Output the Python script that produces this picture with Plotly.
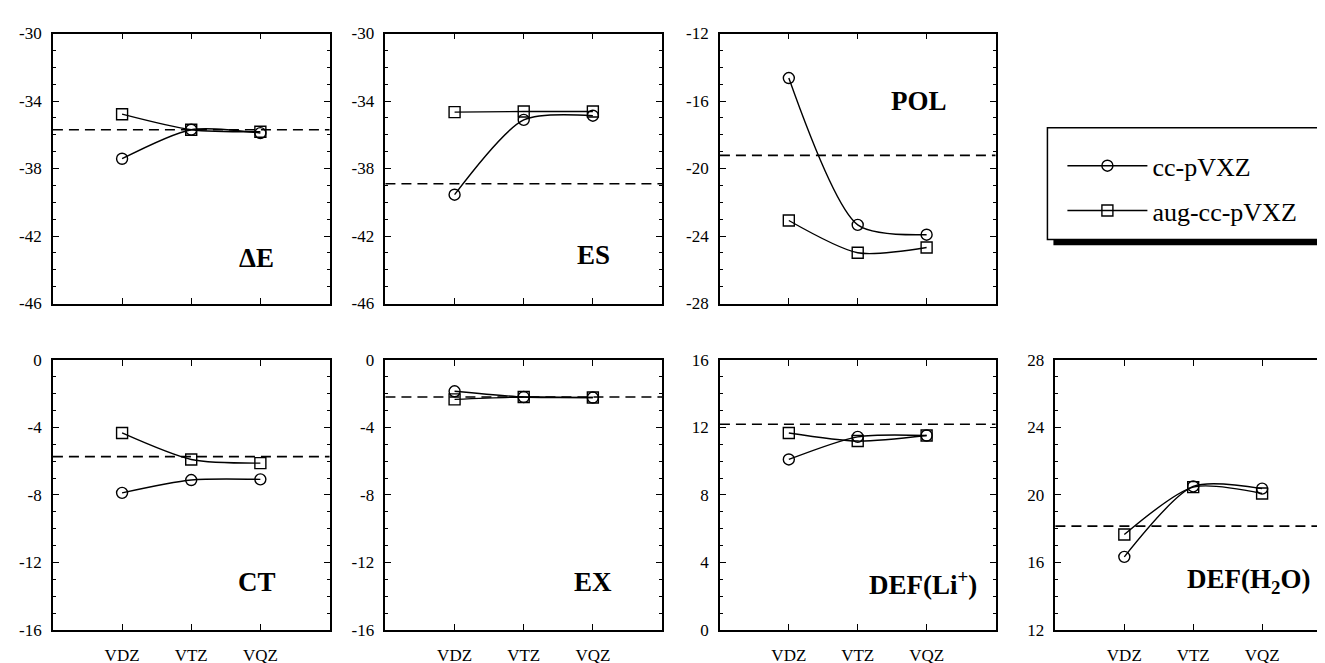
import plotly.graph_objects as go

# ---------------- data ----------------
basis = ["VDZ", "VTZ", "VQZ"]
series_names = ["cc-pVXZ", "aug-cc-pVXZ"]

panel_labels = ["<b>ΔE</b>", "<b>ES</b>", "<b>POL</b>", "<b>CT</b>", "<b>EX</b>",
                "<b>DEF(Li<sup>+</sup>)</b>", "<b>DEF(H<sub>2</sub>O)</b>"]

dE_cc = [-37.42, -35.70, -35.90]
dE_aug = [-34.78, -35.70, -35.82]
dE_ref = -35.70

ES_cc = [-39.55, -35.12, -34.87]
ES_aug = [-34.66, -34.62, -34.62]
ES_ref = -38.90

POL_cc = [-14.64, -23.34, -23.92]
POL_aug = [-23.08, -24.99, -24.68]
POL_ref = -19.22

CT_cc = [-7.88, -7.12, -7.08]
CT_aug = [-4.33, -5.90, -6.12]
CT_ref = -5.73

EX_cc = [-1.86, -2.20, -2.23]
EX_aug = [-2.34, -2.20, -2.23]
EX_ref = -2.20

DLi_cc = [10.10, 11.44, 11.52]
DLi_aug = [11.67, 11.19, 11.52]
DLi_ref = 12.19

DH2O_cc = [16.33, 20.50, 20.37]
DH2O_aug = [17.65, 20.46, 20.08]
DH2O_ref = 18.15

y_ranges = [[-46, -30], [-46, -30], [-28, -12], [-16, 0], [-16, 0], [0, 16], [12, 28]]
y_step = 4

cc_all = [dE_cc, ES_cc, POL_cc, CT_cc, EX_cc, DLi_cc, DH2O_cc]
aug_all = [dE_aug, ES_aug, POL_aug, CT_aug, EX_aug, DLi_aug, DH2O_aug]
ref_all = [dE_ref, ES_ref, POL_ref, CT_ref, EX_ref, DLi_ref, DH2O_ref]

# ---------------- layout geometry (pixels) ----------------
W, H = 1325, 663
cols_px = [(45, 322), (378, 655), (713, 989), (1049, 1325)]
top_px = (17, 295)
bot_px = (353, 631)
panel_pos = [(0, top_px), (1, top_px), (2, top_px),
             (0, bot_px), (1, bot_px), (2, bot_px), (3, bot_px)]
label_pos = [(0.805, 0.17), (0.82, 0.18), (0.83, 0.75), (0.812, 0.176),
             (0.827, 0.176), (0.94, 0.173), (0.93, 0.183)]

FONT = "Liberation Serif"
fig = go.Figure()
layout = dict(width=W, height=H, margin=dict(l=0, r=0, t=0, b=0),
              paper_bgcolor="white", plot_bgcolor="white", showlegend=True)
shapes = []
annotations = []

for i in range(7):
    n = "" if i == 0 else str(i + 1)
    c, (yt, yb) = panel_pos[i]
    x0, x1 = cols_px[c]
    xdom = [x0 / W, min(x1 / W, 1.0)]
    ydom = [(H - yb) / H, (H - yt) / H]
    bottom = i >= 3
    lo, hi = y_ranges[i]
    yt_vals = list(range(lo, hi + 1, y_step))
    yt_text = [str(v) for v in yt_vals]
    layout["xaxis" + n] = dict(
        domain=xdom, anchor="y" + n, type="category", range=[-1, 3],
        showline=True, linecolor="black", linewidth=1.6, mirror="allticks",
        ticks="inside", ticklen=6, tickwidth=1.2, tickcolor="black",
        showgrid=False, zeroline=False, showticklabels=bottom,
        tickfont=dict(family=FONT, size=17, color="black"),
        ticklabelstandoff=9, fixedrange=True)
    layout["yaxis" + n] = dict(
        domain=ydom, anchor="x" + n, range=[lo, hi],
        tickmode="array", tickvals=yt_vals, ticktext=yt_text,
        showline=True, linecolor="black", linewidth=1.6, mirror="allticks",
        ticks="inside", ticklen=6, tickwidth=1.2, tickcolor="black",
        minor=dict(dtick=1, tick0=lo, ticks="inside", ticklen=3, tickwidth=1, tickcolor="black"),
        showgrid=False, zeroline=False,
        tickfont=dict(family=FONT, size=17, color="black"),
        ticklabelstandoff=6, fixedrange=True)

    for vals, name, sym in [(cc_all[i], series_names[0], "circle-open"),
                            (aug_all[i], series_names[1], "square-open")]:
        fig.add_trace(go.Scatter(
            x=basis, y=vals, mode="lines+markers", name=name,
            xaxis="x" + n, yaxis="y" + n, showlegend=(i == 0),
            legendgroup=name,
            line=dict(color="black", width=1.4, shape="spline", smoothing=0.75),
            marker=dict(symbol=sym, size=11, color="black", line=dict(width=1.4, color="black"))))

    shapes.append(dict(type="line", xref="x" + n + " domain", yref="y" + n,
                       x0=0, x1=1, y0=ref_all[i], y1=ref_all[i],
                       line=dict(color="black", width=1.6, dash="10px,6px"), layer="above"))
    lx, ly = label_pos[i]
    annotations.append(dict(text=panel_labels[i], xref="x" + n + " domain", yref="y" + n + " domain",
                            x=lx, y=ly, xanchor="right", yanchor="middle", showarrow=False,
                            font=dict(family=FONT, size=27, color="black")))

# legend box with drop shadow (pixels -> paper)
def px(x):
    return x / W

def py(y):
    return (H - y) / H

shapes.append(dict(type="rect", xref="paper", yref="paper",
                   x0=px(1047), x1=px(1325), y0=py(235), y1=py(120),
                   fillcolor="black", line=dict(width=0), layer="below"))
shapes.append(dict(type="rect", xref="paper", yref="paper",
                   x0=px(1041), x1=px(1319), y0=py(229), y1=py(114),
                   fillcolor="white", line=dict(color="black", width=1.5), layer="below"))

layout["shapes"] = shapes
layout["annotations"] = annotations
layout["legend"] = dict(x=px(1056), y=py(129), xanchor="left", yanchor="top",
                        bgcolor="rgba(0,0,0,0)", borderwidth=0,
                        font=dict(family=FONT, size=26, color="black"),
                        itemwidth=80, traceorder="grouped", tracegroupgap=8)
fig.update_layout(**layout)
fig.write_html("out.html")
